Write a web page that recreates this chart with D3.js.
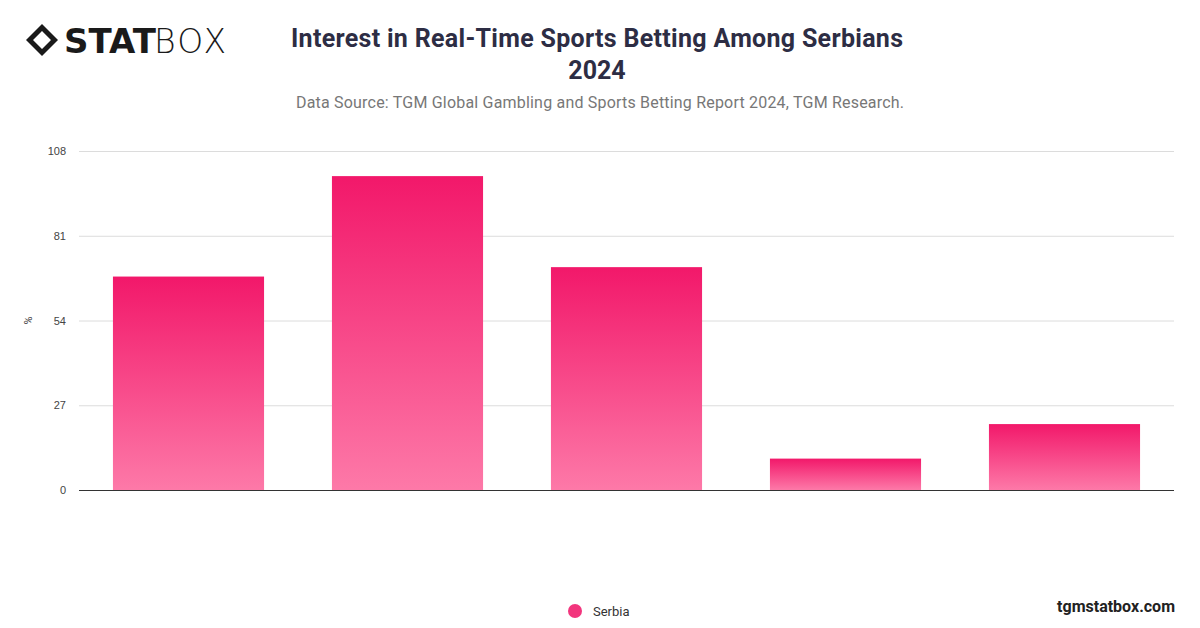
<!DOCTYPE html>
<html lang="en">
<head>
<meta charset="UTF-8">
<script src="https://d3js.org/d3.v7.min.js"></script>
<style>
  body { margin: 0; background: #fff; font-family: Roboto, "Noto Sans", Arial, sans-serif; }
  .grid line { stroke: #dcdcdc; }
  .grid path { display: none; }
  .yaxis path, .yaxis line { display: none; }
  .yaxis text { font-size: 11px; fill: #444; }
</style>
</head>
<body>
<svg id="chart" width="1200" height="628"></svg>
<script>
// chart data
const categories = ['Category 1', 'Category 2', 'Category 3', 'Category 4', 'Category 5'];
const serbia = [68, 100, 71, 10, 21];
const yTicks = [0, 27, 54, 81, 108];

const svg = d3.select('#chart');
const plot = { left: 79, right: 1174, top: 151, bottom: 490 };

// logo
const logo = svg.append('g').attr('transform', 'translate(26,24)');
logo.append('path')
    .attr('d', 'M0,16 L16,0 L32,16 L16,32 Z M7,16 L16,7 L25,16 L16,25 Z')
    .attr('fill', '#1a1a1a').attr('fill-rule', 'evenodd');
logo.append('text').attr('x', 38).attr('y', 29)
    .style('font-family', '"DejaVu Sans", sans-serif').style('font-weight', 900)
    .style('font-size', '34px').attr('fill', '#1a1a1a').text('STAT');
logo.append('text').attr('x', 128).attr('y', 29)
    .style('font-family', '"DejaVu Sans", sans-serif').style('font-weight', 300)
    .style('font-size', '33px').attr('fill', '#1a1a1a').attr('textLength', 72).text('BOX');

// titles
svg.append('text').attr('x', 597).attr('y', 47).attr('text-anchor', 'middle')
    .style('font-size', '25px').style('font-weight', 700).attr('fill', '#2d2d44')
    .attr('textLength', 612).text('Interest in Real-Time Sports Betting Among Serbians');
svg.append('text').attr('x', 597).attr('y', 79).attr('text-anchor', 'middle')
    .style('font-size', '25px').style('font-weight', 700).attr('fill', '#2d2d44').text('2024');
svg.append('text').attr('x', 600).attr('y', 108).attr('text-anchor', 'middle')
    .style('font-size', '16px').attr('fill', '#777').attr('textLength', 608)
    .text('Data Source: TGM Global Gambling and Sports Betting Report 2024, TGM Research.');

// scales
const x = d3.scaleBand().domain(categories).range([plot.left, plot.right]).paddingInner(0.31).paddingOuter(0.155);
const y = d3.scaleLinear().domain([0, 108]).range([plot.bottom, plot.top]);

svg.append('g').attr('class', 'grid')
    .attr('transform', `translate(${plot.left},0)`)
    .call(d3.axisLeft(y).tickValues(yTicks).tickSize(-(plot.right - plot.left)).tickFormat(''));

svg.append('g').attr('class', 'yaxis')
    .attr('transform', `translate(${plot.left - 10},0)`)
    .call(d3.axisLeft(y).tickValues(yTicks).tickSize(0));

svg.append('text').attr('transform', 'rotate(-90)').attr('x', -(plot.top + plot.bottom) / 2).attr('y', 32)
    .attr('text-anchor', 'middle').style('font-size', '11px').attr('fill', '#444').text('%');

// gradient
const grad = svg.append('defs').append('linearGradient').attr('id', 'barGrad')
    .attr('x1', 0).attr('y1', 0).attr('x2', 0).attr('y2', 1);
grad.append('stop').attr('offset', '0%').attr('stop-color', '#f2186a');
grad.append('stop').attr('offset', '100%').attr('stop-color', '#fd79a8');

svg.append('g').selectAll('rect')
    .data(serbia)
    .enter().append('rect')
    .attr('x', (d, i) => x(categories[i]))
    .attr('y', d => y(d))
    .attr('width', x.bandwidth())
    .attr('height', d => y(0) - y(d))
    .attr('fill', 'url(#barGrad)');

// baseline
svg.append('line').attr('x1', plot.left).attr('x2', plot.right)
    .attr('y1', y(0) + 0.5).attr('y2', y(0) + 0.5).attr('stroke', '#333');

// legend
svg.append('circle').attr('cx', 575).attr('cy', 611).attr('r', 7).attr('fill', '#f2357d');
svg.append('text').attr('x', 593).attr('y', 616).style('font-size', '13px').attr('fill', '#333').text('Serbia');

svg.append('text').attr('x', 1175).attr('y', 612).attr('text-anchor', 'end')
    .style('font-size', '16px').style('font-weight', 700).attr('fill', '#222').text('tgmstatbox.com');
</script>
</body>
</html>
